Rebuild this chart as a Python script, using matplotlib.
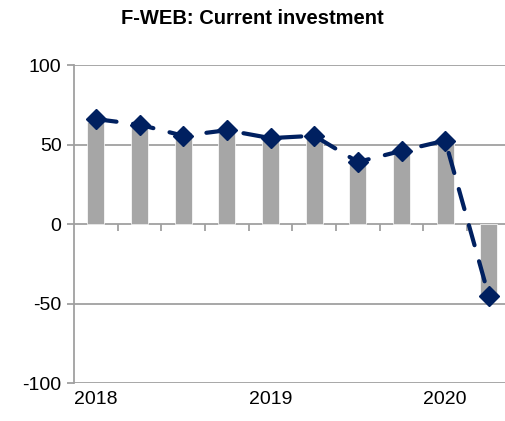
import matplotlib.pyplot as plt
import numpy as np
from matplotlib import rcParams

rcParams['font.family'] = 'Liberation Sans'
rcParams['font.size'] = 14

# data: quarterly, 2018Q1 .. 2020Q2
quarters = ['2018', '', '', '', '2019', '', '', '', '2020', '']
bar_vals = [64, 61, 54, 57, 53, 54, 38, 45, 51, -45]
line_vals = [66, 62.5, 55.5, 59, 54, 55.5, 39, 46, 52.5, -45.5]

grid_col = '#A0A0A0'
bar_col = '#A6A6A6'
line_col = '#002060'

fig = plt.figure(figsize=(5.05, 4.21), dpi=100)
W, H = 505, 421
# plot area runs past the right edge of the picture (cropped original)
left, right, top, bottom = 74, 510.7, 65, 383
ax = fig.add_axes([left / W, 1 - bottom / H, (right - left) / W, (bottom - top) / H])

x = np.arange(len(bar_vals))
ax.bar(x, bar_vals, width=0.39, color=bar_col, edgecolor='white', linewidth=0.5, zorder=2)
ax.plot(x, line_vals, color=line_col, lw=3, linestyle=(0, (5, 4)),
        dash_capstyle='round', marker='D', ms=10, mec=line_col, mfc=line_col, zorder=3)

ax.set_xlim(-0.5, len(x) - 0.5)
ax.set_ylim(-100, 100)
ax.set_yticks([-100, -50, 0, 50, 100])
ax.set_yticklabels(['-100', '-50', '0', '50', '100'])
for yv in [-100, -50, 0, 50, 100]:
    ax.axhline(yv, color=grid_col, lw=1.3, zorder=1)

for s in ['top', 'right', 'bottom']:
    ax.spines[s].set_visible(False)
ax.spines['left'].set_color(grid_col)
ax.spines['left'].set_linewidth(1.3)
ax.tick_params(axis='y', length=5, width=1.3, color=grid_col, pad=4, labelsize=14)

# year labels, no tick marks at the bottom
ax.set_xticks(x)
ax.set_xticklabels(quarters)
ax.tick_params(axis='x', length=0, pad=6, labelsize=14)

# little category ticks hanging below the zero line
for b in np.arange(0.5, len(x) - 0.5, 1.0):
    ax.plot([b, b], [0, -4.5], color=grid_col, lw=1.3, zorder=1, solid_capstyle='butt')

fig.text(0.5, 1 - 18 / H, 'F-WEB: Current investment', ha='center', va='center',
         fontsize=14.5, fontweight='bold')

fig.savefig('out.png', dpi=100)
